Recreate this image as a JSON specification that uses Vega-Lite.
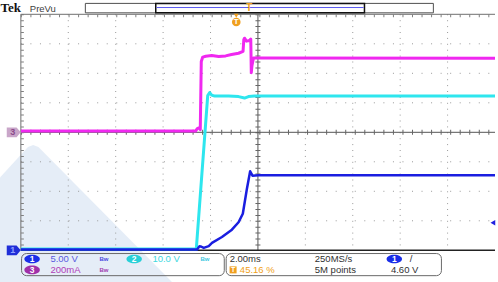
{
  "$schema": "https://vega.github.io/schema/vega-lite/v6.json",
  "width": 498,
  "height": 282,
  "autosize": {"type": "fit", "contains": "padding"},
  "padding": 0,
  "background": "white",
  "config": {"view": {"stroke": null}, "font": "Liberation Sans"},
  "datasets": {
    "wm": [
      {"x": -0.44, "y": -1.535},
      {"x": 0.15, "y": -0.5},
      {"x": 0.258, "y": -0.43},
      {"x": 0.37, "y": -0.5},
      {"x": 3.187, "y": -5.075}
    ],
    "grid": [
      {"k": "v", "x": 1, "y": 4, "y2": -4},
      {"k": "v", "x": 2, "y": 4, "y2": -4},
      {"k": "v", "x": 3, "y": 4, "y2": -4},
      {"k": "v", "x": 4, "y": 4, "y2": -4},
      {"k": "v", "x": 6, "y": 4, "y2": -4},
      {"k": "v", "x": 7, "y": 4, "y2": -4},
      {"k": "v", "x": 8, "y": 4, "y2": -4},
      {"k": "v", "x": 9, "y": 4, "y2": -4},
      {"k": "h", "x": 0, "x2": 10, "y": 3},
      {"k": "h", "x": 0, "x2": 10, "y": 2},
      {"k": "h", "x": 0, "x2": 10, "y": 1},
      {"k": "h", "x": 0, "x2": 10, "y": -1},
      {"k": "h", "x": 0, "x2": 10, "y": -2},
      {"k": "h", "x": 0, "x2": 10, "y": -3},
      {"k": "cv", "x": 5, "y": 4, "y2": -4},
      {"k": "bl", "x": 0, "y": 4, "y2": -4},
      {"k": "ch", "x": 0, "x2": 10, "y": 0},
      {"k": "bt", "x": 0, "x2": 10, "y": 4},
      {"k": "bb", "x": 0, "x2": 10, "y": -4}
    ],
    "traces": [
      {"ch": "CH3", "x": 0, "y": 0.04},
      {"ch": "CH3", "x": 3.683, "y": 0.04},
      {"ch": "CH3", "x": 3.721, "y": 0.125},
      {"ch": "CH3", "x": 3.753, "y": 0.149},
      {"ch": "CH3", "x": 3.784, "y": 0.09},
      {"ch": "CH3", "x": 3.805, "y": 2.4},
      {"ch": "CH3", "x": 3.836, "y": 2.55},
      {"ch": "CH3", "x": 3.899, "y": 2.58},
      {"ch": "CH3", "x": 4.025, "y": 2.6},
      {"ch": "CH3", "x": 4.172, "y": 2.57},
      {"ch": "CH3", "x": 4.319, "y": 2.59},
      {"ch": "CH3", "x": 4.444, "y": 2.64},
      {"ch": "CH3", "x": 4.591, "y": 2.68},
      {"ch": "CH3", "x": 4.686, "y": 2.74},
      {"ch": "CH3", "x": 4.702, "y": 3.14},
      {"ch": "CH3", "x": 4.717, "y": 3.19},
      {"ch": "CH3", "x": 4.759, "y": 3.09},
      {"ch": "CH3", "x": 4.822, "y": 3.11},
      {"ch": "CH3", "x": 4.849, "y": 3.16},
      {"ch": "CH3", "x": 4.86, "y": 2.02},
      {"ch": "CH3", "x": 4.874, "y": 2.26},
      {"ch": "CH3", "x": 4.906, "y": 2.52},
      {"ch": "CH3", "x": 4.969, "y": 2.52},
      {"ch": "CH3", "x": 5.052, "y": 2.52},
      {"ch": "CH3", "x": 10, "y": 2.51},
      {"ch": "CH2", "x": 0, "y": -3.96},
      {"ch": "CH2", "x": 3.7, "y": -3.96},
      {"ch": "CH2", "x": 3.941, "y": 1.244},
      {"ch": "CH2", "x": 3.983, "y": 1.346},
      {"ch": "CH2", "x": 4.025, "y": 1.261},
      {"ch": "CH2", "x": 4.088, "y": 1.227},
      {"ch": "CH2", "x": 4.382, "y": 1.227},
      {"ch": "CH2", "x": 4.591, "y": 1.21},
      {"ch": "CH2", "x": 4.717, "y": 1.16},
      {"ch": "CH2", "x": 4.801, "y": 1.21},
      {"ch": "CH2", "x": 4.927, "y": 1.227},
      {"ch": "CH2", "x": 10, "y": 1.227},
      {"ch": "CH1", "x": 0, "y": -3.97},
      {"ch": "CH1", "x": 3.717, "y": -3.97},
      {"ch": "CH1", "x": 3.767, "y": -3.86},
      {"ch": "CH1", "x": 3.809, "y": -3.88},
      {"ch": "CH1", "x": 3.857, "y": -3.92},
      {"ch": "CH1", "x": 3.962, "y": -3.86},
      {"ch": "CH1", "x": 4.031, "y": -3.75},
      {"ch": "CH1", "x": 4.241, "y": -3.55},
      {"ch": "CH1", "x": 4.451, "y": -3.3},
      {"ch": "CH1", "x": 4.591, "y": -3.05},
      {"ch": "CH1", "x": 4.681, "y": -2.76},
      {"ch": "CH1", "x": 4.765, "y": -1.94},
      {"ch": "CH1", "x": 4.836, "y": -1.32},
      {"ch": "CH1", "x": 4.885, "y": -1.47},
      {"ch": "CH1", "x": 5.01, "y": -1.46},
      {"ch": "CH1", "x": 10, "y": -1.46}
    ],
    "boxes": [
      {"k": "bar", "x": 1.36, "x2": 8.7, "y": 4.37, "y2": 4.05},
      {"k": "win", "x": 2.845, "x2": 7.247, "y": 4.37, "y2": 4.05},
      {"k": "foot", "x": 0.015, "x2": 4.29, "y": -4.11, "y2": -4.86},
      {"k": "foot", "x": 4.33, "x2": 8.87, "y": -4.11, "y2": -4.86}
    ],
    "winline": [{"x": 2.86, "x2": 7.23, "y": 4.23}],
    "badges": [
      {"ch": "CH1", "n": "1", "x": 0.237, "y": -4.292},
      {"ch": "CH2", "n": "2", "x": 2.39, "y": -4.292},
      {"ch": "CH3", "n": "3", "x": 0.237, "y": -4.664},
      {"ch": "CH1", "n": "1", "x": 7.876, "y": -4.292}
    ],
    "labels": [
      {"g": "CH1", "t": "5.00 V", "x": 0.623, "y": -4.292},
      {"g": "CH2", "t": "10.0 V", "x": 2.774, "y": -4.292},
      {"g": "CH3", "t": "200mA", "x": 0.623, "y": -4.664},
      {"g": "info", "t": "2.00ms", "x": 4.403, "y": -4.292},
      {"g": "info", "t": "250MS/s", "x": 6.199, "y": -4.292},
      {"g": "info", "t": "5M points", "x": 6.199, "y": -4.664},
      {"g": "info", "t": "4.60 V", "x": 7.805, "y": -4.664},
      {"g": "info", "t": "/", "x": 8.2, "y": -4.292},
      {"g": "trig", "t": "45.16 %", "x": 4.619, "y": -4.664}
    ],
    "bw": [
      {"ch": "CH1", "x": 1.656, "y": -4.292},
      {"ch": "CH2", "x": 3.788, "y": -4.292},
      {"ch": "CH3", "x": 1.656, "y": -4.664}
    ],
    "head": [
      {"g": "tek", "t": "Tek", "x": -0.43, "y": 4.065},
      {"g": "prevu", "t": "PreVu", "x": 0.189, "y": 4.09}
    ],
    "trigpos": [
      {"k": "bar", "x": 4.815, "y": 4.227},
      {"k": "tri", "x": 4.543, "y": 3.95},
      {"k": "circ", "x": 4.543, "y": 3.74},
      {"k": "foot", "x": 4.476, "y": -4.664}
    ],
    "chmark": [
      {"ch": "CH3", "n": "3", "x": -0.15, "y": 0},
      {"ch": "CH1", "n": "1", "x": -0.15, "y": -4}
    ],
    "triglevel": [{"x": 9.955, "y": -3.07}]
  },
  "encoding": {
    "x": {"field": "x", "type": "quantitative", "scale": {"domain": [-0.44, 10.0], "nice": false, "zero": false}, "axis": null},
    "y": {"field": "y", "type": "quantitative", "scale": {"domain": [-5.075, 4.485], "nice": false, "zero": false}, "axis": null}
  },
  "layer": [
    {"data": {"name": "wm"}, "mark": {"type": "area", "color": "#e5edf7"}, "encoding": {"y2": {"datum": -5.075}}},
    {"data": {"name": "grid"}, "transform": [{"filter": "datum.k == 'v'"}], "mark": {"type": "rule", "color": "#9a9a9a", "strokeWidth": 1, "strokeDash": [1, 4.9]}, "encoding": {"y2": {"field": "y2"}}},
    {"data": {"name": "grid"}, "transform": [{"filter": "datum.k == 'h'"}], "mark": {"type": "rule", "color": "#9a9a9a", "strokeWidth": 1, "strokeDash": [1, 8.54]}, "encoding": {"x2": {"field": "x2"}}},
    {"data": {"name": "grid"}, "transform": [{"filter": "datum.k == 'cv'"}], "mark": {"type": "rule", "color": "#555555", "strokeWidth": 1}, "encoding": {"y2": {"field": "y2"}}},
    {"data": {"name": "grid"}, "transform": [{"filter": "datum.k == 'cv'"}], "mark": {"type": "rule", "color": "#666666", "strokeWidth": 5, "strokeDash": [1, 4.9]}, "encoding": {"y2": {"field": "y2"}}},
    {"data": {"name": "grid"}, "transform": [{"filter": "datum.k == 'ch'"}], "mark": {"type": "rule", "color": "#555555", "strokeWidth": 1}, "encoding": {"x2": {"field": "x2"}}},
    {"data": {"name": "grid"}, "transform": [{"filter": "datum.k == 'ch'"}], "mark": {"type": "rule", "color": "#666666", "strokeWidth": 5, "strokeDash": [1, 8.54]}, "encoding": {"x2": {"field": "x2"}}},
    {"data": {"name": "grid"}, "transform": [{"filter": "datum.k == 'bl'"}], "mark": {"type": "rule", "color": "#707070", "strokeWidth": 1}, "encoding": {"y2": {"field": "y2"}}},
    {"data": {"name": "grid"}, "transform": [{"filter": "datum.k == 'bl'"}], "mark": {"type": "rule", "color": "#808080", "strokeWidth": 3, "xOffset": 1.5, "strokeDash": [1, 4.9]}, "encoding": {"y2": {"field": "y2"}}},
    {"data": {"name": "grid"}, "transform": [{"filter": "datum.k == 'bt'"}], "mark": {"type": "rule", "color": "#707070", "strokeWidth": 1}, "encoding": {"x2": {"field": "x2"}}},
    {"data": {"name": "grid"}, "transform": [{"filter": "datum.k == 'bt'"}], "mark": {"type": "rule", "color": "#808080", "strokeWidth": 3, "yOffset": 1.5, "strokeDash": [1, 8.54]}, "encoding": {"x2": {"field": "x2"}}},
    {"data": {"name": "grid"}, "transform": [{"filter": "datum.k == 'bb'"}], "mark": {"type": "rule", "color": "#222222", "strokeWidth": 1.5}, "encoding": {"x2": {"field": "x2"}}},
    {"data": {"name": "traces"}, "transform": [{"filter": "datum.ch == 'CH2'"}], "mark": {"type": "line", "color": "#2ee6ee", "strokeWidth": 3, "strokeJoin": "round"}, "encoding": {}},
    {"data": {"name": "traces"}, "transform": [{"filter": "datum.ch == 'CH1'"}], "mark": {"type": "line", "color": "#1a1ee0", "strokeWidth": 2.5, "strokeJoin": "round"}, "encoding": {}},
    {"data": {"name": "traces"}, "transform": [{"filter": "datum.ch == 'CH3'"}], "mark": {"type": "line", "color": "#f028f0", "strokeWidth": 3, "strokeJoin": "round"}, "encoding": {}},
    {"data": {"name": "boxes"}, "transform": [{"filter": "datum.k == 'bar'"}], "mark": {"type": "rect", "fill": "white", "stroke": "#505050", "strokeWidth": 1}, "encoding": {"x2": {"field": "x2"}, "y2": {"field": "y2"}}},
    {"data": {"name": "boxes"}, "transform": [{"filter": "datum.k == 'win'"}], "mark": {"type": "rect", "fill": "white", "stroke": "#111111", "strokeWidth": 1.5}, "encoding": {"x2": {"field": "x2"}, "y2": {"field": "y2"}}},
    {"data": {"name": "winline"}, "mark": {"type": "rule", "color": "#5a5af0", "strokeWidth": 1}, "encoding": {"x2": {"field": "x2"}}},
    {"data": {"name": "boxes"}, "transform": [{"filter": "datum.k == 'foot'"}], "mark": {"type": "rect", "fillOpacity": 0, "stroke": "#6a6a6a", "strokeWidth": 1, "cornerRadius": 5}, "encoding": {"x2": {"field": "x2"}, "y2": {"field": "y2"}}},
    {"data": {"name": "head"}, "transform": [{"filter": "datum.g == 'tek'"}], "mark": {"type": "text", "font": "Liberation Serif", "fontWeight": "bold", "fontSize": 13, "color": "#111111", "align": "left", "baseline": "alphabetic"}, "encoding": {"text": {"field": "t"}}},
    {"data": {"name": "head"}, "transform": [{"filter": "datum.g == 'prevu'"}], "mark": {"type": "text", "fontSize": 9.5, "color": "#404040", "align": "left", "baseline": "alphabetic"}, "encoding": {"text": {"field": "t"}}},
    {"data": {"name": "trigpos"}, "transform": [{"filter": "datum.k == 'bar'"}], "mark": {"type": "text", "text": "T", "fontWeight": "bold", "fontSize": 10, "color": "#f0a020", "align": "center", "baseline": "middle"}, "encoding": {}},
    {"data": {"name": "trigpos"}, "transform": [{"filter": "datum.k == 'tri'"}], "mark": {"type": "point", "shape": "triangle-down", "size": 22, "filled": true, "color": "#f0a020", "opacity": 1}, "encoding": {}},
    {"data": {"name": "trigpos"}, "transform": [{"filter": "datum.k == 'circ'"}], "mark": {"type": "point", "shape": "circle", "size": 75, "filled": true, "color": "#f0a020", "opacity": 1}, "encoding": {}},
    {"data": {"name": "trigpos"}, "transform": [{"filter": "datum.k == 'circ'"}], "mark": {"type": "text", "text": "T", "fontWeight": "bold", "fontSize": 8, "color": "white", "align": "center", "baseline": "middle"}, "encoding": {}},
    {"data": {"name": "trigpos"}, "transform": [{"filter": "datum.k == 'foot'"}], "mark": {"type": "point", "shape": "square", "size": 49, "filled": true, "color": "#f0a020", "opacity": 1}, "encoding": {}},
    {"data": {"name": "trigpos"}, "transform": [{"filter": "datum.k == 'foot'"}], "mark": {"type": "text", "text": "T", "fontWeight": "bold", "fontSize": 7, "color": "white", "align": "center", "baseline": "middle"}, "encoding": {}},
    {"data": {"name": "badges"}, "transform": [{"filter": "datum.ch == 'CH1'"}], "mark": {"type": "point", "shape": "M-1,0A1,0.55,0,1,1,1,0A1,0.55,0,1,1,-1,0Z", "size": 240, "filled": true, "color": "#1a2ee8", "opacity": 1}, "encoding": {}},
    {"data": {"name": "badges"}, "transform": [{"filter": "datum.ch == 'CH2'"}], "mark": {"type": "point", "shape": "M-1,0A1,0.55,0,1,1,1,0A1,0.55,0,1,1,-1,0Z", "size": 240, "filled": true, "color": "#28d0d8", "opacity": 1}, "encoding": {}},
    {"data": {"name": "badges"}, "transform": [{"filter": "datum.ch == 'CH3'"}], "mark": {"type": "point", "shape": "M-1,0A1,0.55,0,1,1,1,0A1,0.55,0,1,1,-1,0Z", "size": 240, "filled": true, "color": "#a030a8", "opacity": 1}, "encoding": {}},
    {"data": {"name": "badges"}, "mark": {"type": "text", "fontWeight": "bold", "fontSize": 8.5, "color": "white", "align": "center", "baseline": "middle"}, "encoding": {"text": {"field": "n"}}},
    {"data": {"name": "labels"}, "transform": [{"filter": "datum.g == 'CH1'"}], "mark": {"type": "text", "fontSize": 9.5, "color": "#5a5ae0", "align": "left", "baseline": "middle"}, "encoding": {"text": {"field": "t"}}},
    {"data": {"name": "labels"}, "transform": [{"filter": "datum.g == 'CH2'"}], "mark": {"type": "text", "fontSize": 9.5, "color": "#40d8e0", "align": "left", "baseline": "middle"}, "encoding": {"text": {"field": "t"}}},
    {"data": {"name": "labels"}, "transform": [{"filter": "datum.g == 'CH3'"}], "mark": {"type": "text", "fontSize": 9.5, "color": "#b040b8", "align": "left", "baseline": "middle"}, "encoding": {"text": {"field": "t"}}},
    {"data": {"name": "labels"}, "transform": [{"filter": "datum.g == 'info'"}], "mark": {"type": "text", "fontSize": 9.5, "color": "#303030", "align": "left", "baseline": "middle"}, "encoding": {"text": {"field": "t"}}},
    {"data": {"name": "labels"}, "transform": [{"filter": "datum.g == 'trig'"}], "mark": {"type": "text", "fontSize": 9.5, "color": "#f0a020", "align": "left", "baseline": "middle"}, "encoding": {"text": {"field": "t"}}},
    {"data": {"name": "bw"}, "transform": [{"filter": "datum.ch == 'CH1'"}], "mark": {"type": "text", "text": "Bw", "fontSize": 6, "fontWeight": "bold", "color": "#4a4ae0", "align": "left", "baseline": "middle"}, "encoding": {}},
    {"data": {"name": "bw"}, "transform": [{"filter": "datum.ch == 'CH2'"}], "mark": {"type": "text", "text": "Bw", "fontSize": 6, "fontWeight": "bold", "color": "#40c8e0", "align": "left", "baseline": "middle"}, "encoding": {}},
    {"data": {"name": "bw"}, "transform": [{"filter": "datum.ch == 'CH3'"}], "mark": {"type": "text", "text": "Bw", "fontSize": 6, "fontWeight": "bold", "color": "#a040b0", "align": "left", "baseline": "middle"}, "encoding": {}},
    {"data": {"name": "chmark"}, "transform": [{"filter": "datum.ch == 'CH3'"}], "mark": {"type": "point", "shape": "M-1,-0.7L0.4,-0.7L1,0L0.4,0.7L-1,0.7Z", "size": 196, "filled": true, "color": "#c9a6c9", "opacity": 1}, "encoding": {}},
    {"data": {"name": "chmark"}, "transform": [{"filter": "datum.ch == 'CH1'"}], "mark": {"type": "point", "shape": "M-1,-0.7L0.4,-0.7L1,0L0.4,0.7L-1,0.7Z", "size": 196, "filled": true, "color": "#1f2ed8", "opacity": 1}, "encoding": {}},
    {"data": {"name": "chmark"}, "transform": [{"filter": "datum.ch == 'CH3'"}], "mark": {"type": "text", "fontWeight": "bold", "fontSize": 9, "color": "#8a4a8a", "align": "center", "baseline": "middle", "dx": -1}, "encoding": {"text": {"field": "n"}}},
    {"data": {"name": "chmark"}, "transform": [{"filter": "datum.ch == 'CH1'"}], "mark": {"type": "text", "fontWeight": "bold", "fontSize": 9, "color": "#8fa0ff", "align": "center", "baseline": "middle", "dx": -1}, "encoding": {"text": {"field": "n"}}},
    {"data": {"name": "triglevel"}, "mark": {"type": "point", "shape": "triangle-left", "size": 30, "filled": true, "color": "#2020e0", "opacity": 1}, "encoding": {}}
  ]
}
